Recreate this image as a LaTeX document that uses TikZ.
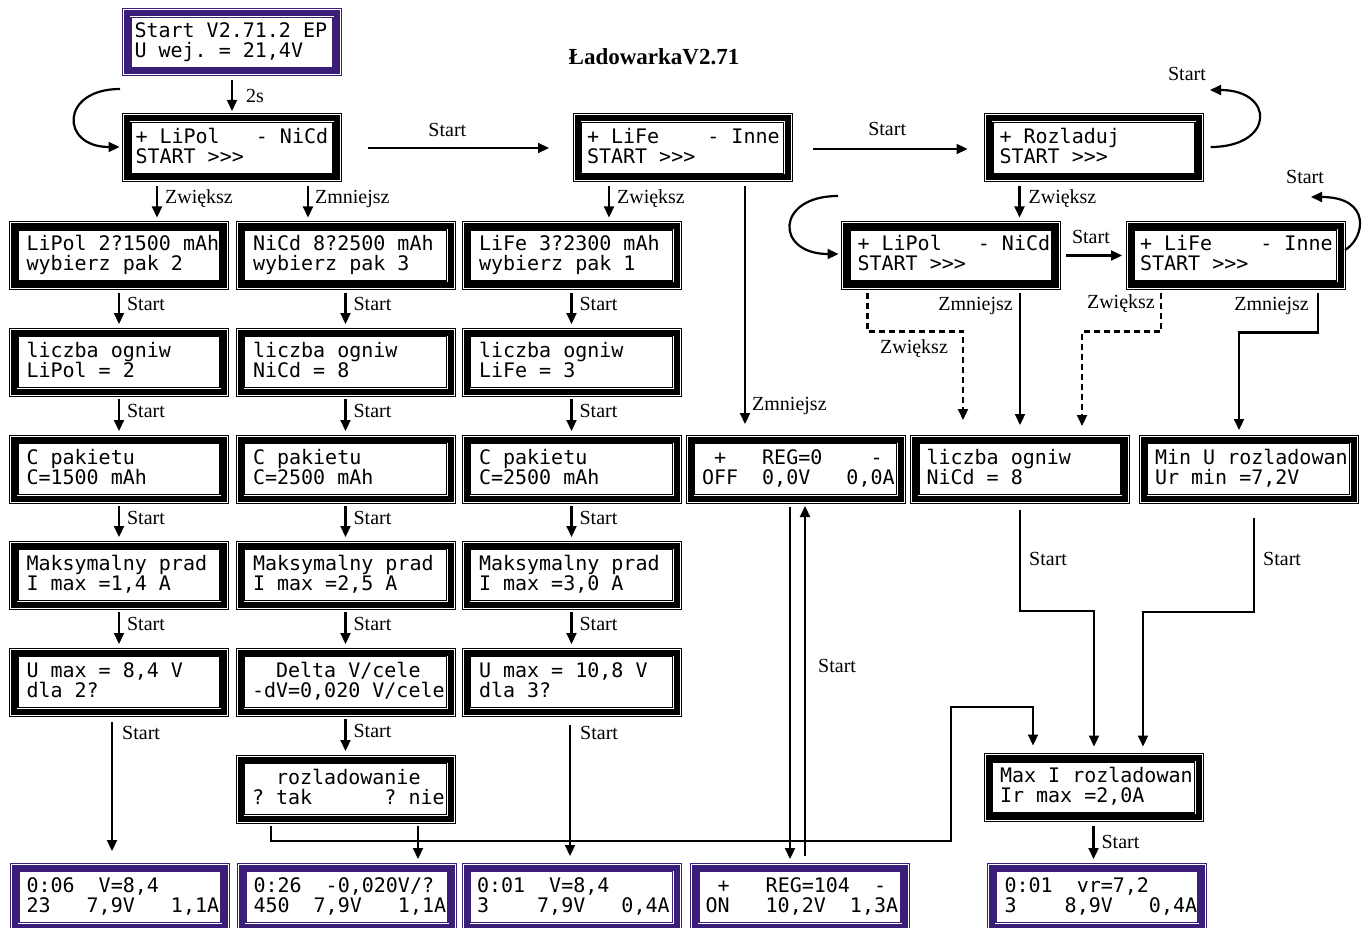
\documentclass[tikz,border=0pt]{standalone}
\usepackage{fontspec}
\setmainfont{Liberation Serif}
\newfontfamily\lcdfont{DejaVu Sans Mono}
\usetikzlibrary{arrows.meta}
\definecolor{lcdpurple}{RGB}{58,30,120}
\newcommand\lcdtext[2]{\mbox{\rule{0pt}{15pt}#1}\\\mbox{#2\rule[-5pt]{0pt}{5pt}}}
\newcommand\lcdspace{\hbox to \fontcharwd\font`0{}}
\begin{document}
\begin{tikzpicture}[x=1pt,y=-1pt,
  lcdbase/.style={rectangle, fill=white, line width=1pt, minimum width=219pt,
    minimum height=68pt, inner ysep=0pt, inner xsep=16pt, text width=187pt,
    align=left, outer sep=0pt, font=\lcdfont\fontsize{20pt}{20pt}\selectfont\let~\lcdspace},
  frame/.style={draw=#1, path picture={
    \draw[#1,line width=6pt] ([shift={(4.5pt,-4.5pt)}]path picture bounding box.north west)
       rectangle ([shift={(-4.5pt,4.5pt)}]path picture bounding box.south east);
    \draw[#1,line width=1.2pt] ([shift={(8.5pt,-8.5pt)}]path picture bounding box.north west)
       rectangle ([shift={(-8.5pt,8.5pt)}]path picture bounding box.south east);}},
  lcd/.style={lcdbase, frame=black},
  plcd/.style={lcdbase, frame=lcdpurple},
  arr/.style={line width=2.2pt, -{Triangle[length=11pt,width=10pt]}},
  dsh/.style={dash pattern=on 6pt off 4pt},
  lbl/.style={inner sep=0pt, font=\fontsize{20pt}{24pt}\selectfont},
  ttl/.style={inner sep=0pt, font=\bfseries\fontsize{23pt}{27pt}\selectfont}
]
\useasboundingbox (0,0) rectangle (1365,928);

\node[ttl] (title) at (654,57) {ŁadowarkaV2.71};

% boxes
\node[plcd, minimum height=67pt, inner xsep=12pt, text width=195pt] (start) at (232,42.5) {\lcdtext{Start~V2.71.2~EP}{U~wej.~=~21,4V}};
\node[lcd, inner xsep=13pt, text width=193pt] (b1) at (232,148) {\lcdtext{+~LiPol~~~-~NiCd}{START~>>>}};
\node[lcd, inner xsep=14pt, text width=191pt] (b2) at (682.5,148) {\lcdtext{+~LiFe~~~~-~Inne}{START~>>>}};
\node[lcd, inner xsep=15pt, text width=189pt] (b3) at (1094,148) {\lcdtext{+~Rozladuj}{START~>>>}};

\node[lcd, inner xsep=17pt, text width=185pt] (c1) at (119,255.5) {\lcdtext{LiPol~2?1500~mAh}{wybierz~pak~2}};
\node[lcd, inner xsep=17pt, text width=185pt] (c2) at (345.5,255.5) {\lcdtext{NiCd~8?2500~mAh}{wybierz~pak~3}};
\node[lcd, inner xsep=17pt, text width=185pt] (c3) at (571.5,255.5) {\lcdtext{LiFe~3?2300~mAh}{wybierz~pak~1}};
\node[lcd] (r1) at (951,255.5) {\lcdtext{+~LiPol~~~-~NiCd}{START~>>>}};
\node[lcd, inner xsep=14pt, text width=191pt] (r2) at (1235.5,255.5) {\lcdtext{+~LiFe~~~~-~Inne}{START~>>>}};

\node[lcd, inner xsep=17pt, text width=185pt] (d1) at (119,362) {\lcdtext{liczba~ogniw}{LiPol~=~2}};
\node[lcd, inner xsep=17pt, text width=185pt] (d2) at (345.5,362) {\lcdtext{liczba~ogniw}{NiCd~=~8}};
\node[lcd, inner xsep=17pt, text width=185pt] (d3) at (571.5,362) {\lcdtext{liczba~ogniw}{LiFe~=~3}};

\node[lcd, inner xsep=17pt, text width=185pt] (f1) at (119,469) {\lcdtext{C~pakietu}{C=1500~mAh}};
\node[lcd, inner xsep=17pt, text width=185pt] (f2) at (345.5,469) {\lcdtext{C~pakietu}{C=2500~mAh}};
\node[lcd, inner xsep=17pt, text width=185pt] (f3) at (571.5,469) {\lcdtext{C~pakietu}{C=2500~mAh}};
\node[lcd] (off) at (795.5,469) {\lcdtext{~+~~~REG=0~~~~-}{OFF~~0,0V~~~0,0A}};
\node[lcd] (n2) at (1020,469) {\lcdtext{liczba~ogniw}{NiCd~=~8}};
\node[lcd] (minu) at (1248.5,469) {\lcdtext{Min~U~rozladowan}{Ur~min~=7,2V}};

\node[lcd, inner xsep=17pt, text width=185pt] (g1) at (119,575) {\lcdtext{Maksymalny~prad}{I~max~=1,4~A}};
\node[lcd, inner xsep=17pt, text width=185pt] (g2) at (345.5,575) {\lcdtext{Maksymalny~prad}{I~max~=2,5~A}};
\node[lcd, inner xsep=17pt, text width=185pt] (g3) at (571.5,575) {\lcdtext{Maksymalny~prad}{I~max~=3,0~A}};

\node[lcd, inner xsep=17pt, text width=185pt] (h1) at (119,682) {\lcdtext{U~max~=~8,4~V}{dla~2?}};
\node[lcd] (h2) at (345.5,682) {\lcdtext{~~Delta~V/cele}{-dV=0,020~V/cele}};
\node[lcd, inner xsep=17pt, text width=185pt] (h3) at (571.5,682) {\lcdtext{U~max~=~10,8~V}{dla~3?}};

\node[lcd] (roz) at (345.5,789) {\lcdtext{~~rozladowanie}{?~tak~~~~~~?~nie}};
\node[lcd] (maxi) at (1093.5,787.5) {\lcdtext{Max~I~rozladowan}{Ir~max~=2,0A}};

\node[plcd] (p1) at (120,897) {\lcdtext{0:06~~V=8,4}{23~~~7,9V~~~1,1A}};
\node[plcd] (p2) at (347,897) {\lcdtext{0:26~~-0,020V/?}{450~~7,9V~~~1,1A}};
\node[plcd, inner xsep=15pt, text width=189pt] (p3) at (571.5,897) {\lcdtext{0:01~~V=8,4}{3~~~~7,9V~~~0,4A}};
\node[plcd, inner xsep=15pt, text width=189pt] (p4) at (800,897) {\lcdtext{~+~~~REG=104~~-}{ON~~~10,2V~~1,3A}};
\node[plcd, inner xsep=17pt, text width=185pt] (p5) at (1097,897) {\lcdtext{0:01~~vr=7,2}{3~~~~8,9V~~~0,4A}};

% top connectors
\draw[arr] ([yshift=-4pt]start.south) -- ([yshift=3pt]b1.north) node[lbl,midway,right=13pt] (l2s) {2s};
\coordinate (b1l) at (120,89);
\draw[arr] (b1l) .. controls (60,89) and (60,147) .. ([xshift=-3pt,yshift=1pt]b1.west);
\draw[arr] ([xshift=26pt]b1.east) -- ([xshift=-24pt]b2.west) node[lbl,pos=0.44,above=10pt] (lb12) {Start};
\draw[arr] ([xshift=21pt,yshift=-1pt]b2.east) -- ([xshift=-17pt,yshift=-1pt]b3.west) node[lbl,pos=0.48,above=12pt] (lb23) {Start};
\coordinate (b3l) at (1210,90);
\draw[arr] ([xshift=7pt,yshift=1pt]b3.east) .. controls (1275,147) and (1275,90) .. (b3l);
\node[lbl] (lb3) at (1187,74) {Start};

\draw[arr] ([xshift=-75pt,yshift=-4pt]b1.south) -- ([xshift=-75pt,yshift=4pt]b1.south |- c1.north) node[lbl,pos=0.4,right=7pt] (lz1) {Zwiększ};
\draw[arr] ([xshift=76pt,yshift=-4pt]b1.south) -- ([xshift=76pt,yshift=4pt]b1.south |- c2.north) node[lbl,pos=0.4,right=6pt] (lm1) {Zmniejsz};
\draw[arr] ([xshift=-73.5pt,yshift=-4pt]b2.south) -- ([xshift=-73.5pt,yshift=4pt]b2.south |- c3.north) node[lbl,pos=0.4,right=7pt] (lz2) {Zwiększ};
\draw[arr, shorten >=11pt] ([xshift=62.5pt,yshift=-4pt]b2.south) -- ([xshift=62.5pt]b2.south |- off.north);
\node[lbl,anchor=west] (lm2) at (752,406) {Zmniejsz};
\draw[arr] ([xshift=-74.5pt,yshift=-4pt]b3.south) -- ([xshift=-74.5pt,yshift=4pt]b3.south |- r1.north) node[lbl,pos=0.4,right=8pt] (lz3) {Zwiększ};

% right group
\coordinate (r1l) at (838,196);
\draw[arr] (r1l) .. controls (775,196) and (775,254) .. ([xshift=-3pt,yshift=1.5pt]r1.west);
\draw[arr] ([xshift=5pt]r1.east) -- ([xshift=-4pt]r2.west) node[lbl,pos=0.45,above=11pt] (lr12) {Start};
\coordinate (r2l) at (1311,197);
\draw[arr] ([yshift=5.5pt]r2.east) .. controls (1365,238) and (1372,197) .. (r2l);
\node[lbl] (lr2) at (1305,177) {Start};

\draw[arr,dsh] ([xshift=26pt,yshift=-3pt]r1.south west) -- ++(0,39) -| ([xshift=-57pt,yshift=15pt]n2.north);
\node[lbl] (lzr1) at (914,349) {Zwiększ};
\draw[arr] ([yshift=-3pt]n2.north |- r1.south) -- ([yshift=10pt]n2.north);
\node[lbl,anchor=east] (lmr1) at (1013,306) {Zmniejsz};
\draw[arr,dsh] ([xshift=35pt,yshift=-3pt]r2.south west) -- ++(0,39) -| ([xshift=62pt,yshift=9pt]n2.north);
\node[lbl,anchor=east] (lzr2) at (1155,304) {Zwiększ};
\draw[arr] ([xshift=-27pt,yshift=-3pt]r2.south east) -- ++(0,40) -| ([xshift=-9.5pt,yshift=5pt]minu.north);
\node[lbl,anchor=east] (lmr2) at (1309,306) {Zmniejsz};

\draw[arr] ([yshift=-7pt]n2.south) -- ++(0,101) -| ([xshift=0.5pt,yshift=7pt]maxi.north);
\node[lbl,anchor=west] (ls1) at (1029,559) {Start};
\draw[arr] ([xshift=5.5pt,yshift=-15pt]minu.south) -- ++(0,94) -| ([xshift=49.5pt,yshift=7pt]maxi.north);
\node[lbl,anchor=west] (ls2) at (1263,559) {Start};
\draw[arr] ([yshift=-4pt]maxi.south) -- ([yshift=4pt]maxi.south |- p5.north) node[lbl,midway,right=7pt] (ls3) {Start};

% OFF <-> ON
\draw[arr, shorten >=4pt] ([xshift=-5.5pt,yshift=-4pt]off.south) -- ([xshift=-5.5pt]off.south |- p4.north);
\draw[arr, shorten >=3pt] ([xshift=5pt,yshift=7pt]p4.north) -- ([xshift=5pt]p4.north |- off.south);
\node[lbl,anchor=west] (ls4) at (818,666) {Start};

% columns
\foreach \a/\b in {c1/d1,d1/f1,f1/g1,g1/h1,c2/d2,d2/f2,f2/g2,g2/h2,c3/d3,d3/f3,f3/g3,g3/h3}{
  \draw[arr] ([yshift=-3pt]\a.south) -- ([yshift=4pt]\b.north) node[lbl,pos=0.38,right=7pt] (l\a) {Start};
}
\draw[arr, shorten >=12pt] ([xshift=-7pt,yshift=-6pt]h1.south) -- ([xshift=-7pt]h1.south |- p1.north);
\node[lbl,anchor=west] (lh1) at (122,733) {Start};
\draw[arr] ([yshift=-3pt]h2.south) -- ([yshift=4pt]roz.north) node[lbl,pos=0.38,right=7pt] (lh2) {Start};
\draw[arr, shorten >=7pt] ([xshift=-1.5pt,yshift=-9pt]h3.south) -- ([xshift=-1.5pt]h3.south |- p3.north);
\node[lbl,anchor=west] (lh3) at (580,733) {Start};

% rozladowanie branches
\draw[arr] ([xshift=35pt,yshift=-3pt]roz.south west) -- ++(0,15) -| ++(680,-134) -| ([xshift=-60.5pt,yshift=8pt]maxi.north);
\draw[arr, shorten >=4pt] ([xshift=72.5pt,yshift=-3pt]roz.south) -- ([xshift=72.5pt]roz.south |- p2.north);
\end{tikzpicture}
\end{document}
